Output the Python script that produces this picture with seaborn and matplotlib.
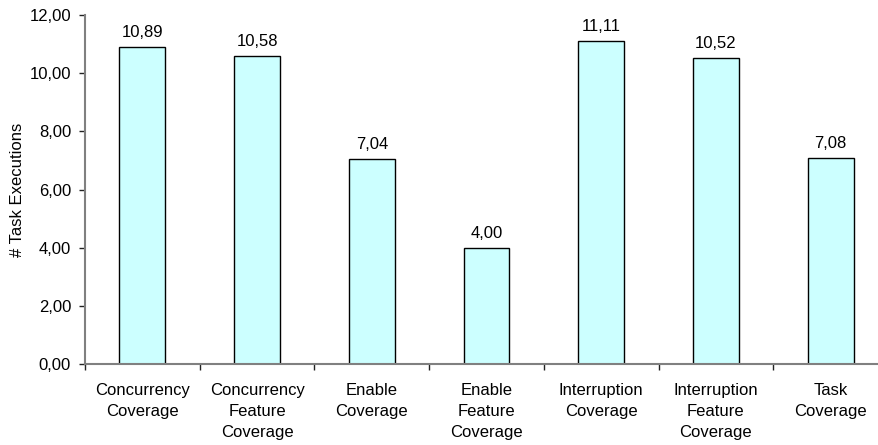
import matplotlib
matplotlib.use("Agg")
import matplotlib.pyplot as plt
import seaborn as sns
from matplotlib.ticker import FuncFormatter, FixedLocator

categories = ["Concurrency\nCoverage", "Concurrency\nFeature\nCoverage", "Enable\nCoverage",
              "Enable\nFeature\nCoverage", "Interruption\nCoverage", "Interruption\nFeature\nCoverage",
              "Task\nCoverage"]
executions = [10.89, 10.58, 7.04, 4.00, 11.11, 10.52, 7.08]

sns.set_style("white")
plt.rcParams["font.family"] = ["Liberation Sans", "DejaVu Sans"]
plt.rcParams["text.color"] = "black"
plt.rcParams["axes.labelcolor"] = "black"
plt.rcParams["xtick.color"] = "black"
plt.rcParams["ytick.color"] = "black"

fs = 12

fig = plt.figure(figsize=(8.79, 4.45), dpi=100)
# axis runs past the right edge like in the original export
ax = fig.add_axes([85 / 879, 1 - 364 / 445, 803 / 879, 349 / 445])

sns.barplot(x=list(range(len(categories))), y=executions, ax=ax, width=0.4,
            color="#CCFFFF", edgecolor="black", linewidth=1, saturation=1)

ax.set_xlim(-0.5, len(categories) - 0.5)
ax.set_ylim(0, 12)
ax.set_yticks(range(0, 13, 2))
ax.yaxis.set_major_formatter(FuncFormatter(lambda v, p: f"{v:.2f}".replace(".", ",")))

# ticks between categories, labels at the centres
ax.xaxis.set_major_locator(FixedLocator([i - 0.5 for i in range(len(categories) + 1)]))
ax.xaxis.set_minor_locator(FixedLocator(range(len(categories))))
ax.set_xticklabels([""] * (len(categories) + 1))
ax.set_xticklabels(categories, minor=True, linespacing=1.5)
ax.tick_params(axis="x", which="minor", length=0, pad=14, labelsize=fs)
ax.tick_params(axis="x", which="major", length=4, width=1, color="#222222", direction="out")
ax.tick_params(axis="y", length=4, width=1, color="#222222", direction="out", labelsize=fs, pad=6)
ax.tick_params(bottom=True, left=True)

for side in ["top", "right"]:
    ax.spines[side].set_visible(False)
for side in ["left", "bottom"]:
    ax.spines[side].set_color("#808080")
    ax.spines[side].set_linewidth(1.5)

ax.set_ylabel("# Task Executions", fontsize=fs, labelpad=3)
ax.set_xlabel("")

ax.bar_label(ax.containers[0], labels=[f"{v:.2f}".replace(".", ",") for v in executions],
             padding=5, fontsize=fs)

fig.savefig("out.png", dpi=100)
